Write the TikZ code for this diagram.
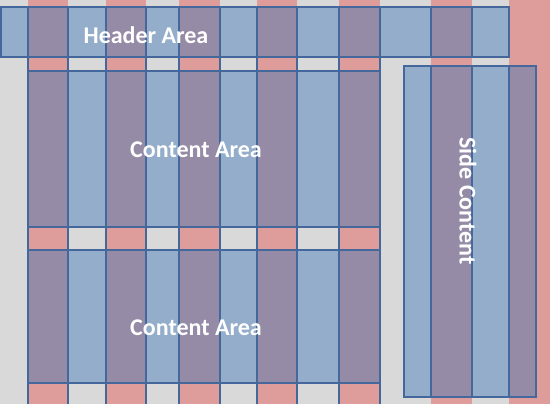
\documentclass[tikz,border=0pt]{standalone}
\usepackage{fontspec}
\setmainfont{Carlito}
\usetikzlibrary{positioning}
\definecolor{gridgray}{HTML}{D9D9D9}
\definecolor{gridred}{HTML}{DE9C9A}
\definecolor{areablue}{HTML}{3A77B9}
\definecolor{areaedge}{HTML}{44689B}
\begin{document}
\begin{tikzpicture}[x=1pt, y=-1pt,
  gutter/.style={fill=gridred},
  cell/.style={fill=areablue, fill opacity=0.44, draw=areaedge, draw opacity=1, line width=1.2pt},
  edge/.style={draw=areaedge, line width=1.2pt},
  areatext/.style={text=white, inner sep=0pt, font=\fontsize{24}{28}\selectfont\bfseries}
]
\useasboundingbox (0,0) rectangle (550,404);
\fill[gridgray] (0,0) rectangle (550,404);
% grid columns
\foreach \xa/\xb in {28/68,106/146,179/220,257/297,339/380,431/472,509/550}
  \fill[gutter] (\xa,0) rectangle (\xb,404);
% header area
\foreach \xa/\xb in {1/28,28/68,68/106,106/146,146/179,179/220,220/257,257/297,297/339,339/380,380/431,431/472,472/509}
  \draw[cell] (\xa,7) rectangle (\xb,57);
% content areas
\foreach \xa/\xb in {28/68,68/106,106/146,146/179,179/220,220/257,257/297,297/339,339/380} {
  \draw[cell] (\xa,71) rectangle (\xb,227);
  \draw[cell] (\xa,250) rectangle (\xb,383);
}
\foreach \xv in {28,68,106,146,179,220,257,297,339,380}
  \draw[edge] (\xv,57) -- (\xv,404);
% side content
\foreach \xa/\xb in {404/431,431/472,472/509,509/536}
  \draw[cell] (\xa,66) rectangle (\xb,397);
\node[areatext] (header) at (146,35) {Header Area};
\node[areatext] (content1) at (196,150) {Content Area};
\node[areatext] (content2) at (196,328) {Content Area};
\node[areatext, rotate=-90] (side) at (468,201) {Side Content};
\end{tikzpicture}
\end{document}
